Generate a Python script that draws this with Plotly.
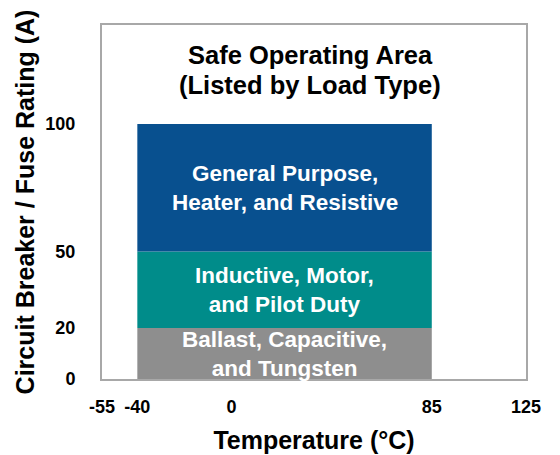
import plotly.graph_objects as go

# Data
temp_min = -40
temp_max = 85
band_lower = [0, 20, 50]
band_upper = [20, 50, 100]
band_labels = ["Ballast, Capacitive,<br>and Tungsten",
               "Inductive, Motor,<br>and Pilot Duty",
               "General Purpose,<br>Heater, and Resistive"]
band_colors = ["#8e8e8e", "#008c8a", "#08508f"]
title_lines = ["Safe Operating Area", "(Listed by Load Type)"]
x_tickvals = [-55, -40, 0, 85, 125]
x_ticktext = ["-55", "-40", "0", "85", "125"]
y_tickvals = [0, 20, 50, 100]
y_ticktext = ["0", "20", "50", "100"]
x_range = [-55, 125]
y_range = [0, 138.8]

FONT = "Liberation Sans, Arial, sans-serif"

fig = go.Figure()
fig.add_trace(go.Scatter(x=[None], y=[None], showlegend=False, hoverinfo="skip"))

for lo, hi, lab, col in zip(band_lower, band_upper, band_labels, band_colors):
    fig.add_shape(type="rect", xref="x", yref="y", x0=temp_min, x1=temp_max,
                  y0=lo, y1=hi, fillcolor=col, line=dict(width=0), layer="below")
    fig.add_annotation(x=(temp_min + temp_max) / 2, y=(lo + hi) / 2, xref="x", yref="y",
                       xanchor="center", yanchor="middle",
                       text="<b>" + lab + "</b>", showarrow=False,
                       font=dict(family=FONT, size=22.5, color="white"))

for line, ypos in zip(title_lines, [0.915, 0.8305]):
    fig.add_annotation(xref="paper", yref="paper", x=0.491, y=ypos,
                       xanchor="center", yanchor="middle",
                       text="<b>" + line + "</b>",
                       showarrow=False, font=dict(family=FONT, size=25.5, color="black"))

fig.update_layout(
    width=552, height=447,
    margin=dict(l=94, r=34, t=17, b=76),
    paper_bgcolor="white", plot_bgcolor="white",
    showlegend=False,
    font=dict(family=FONT, color="black"),
    xaxis=dict(range=x_range, tickvals=x_tickvals, ticktext=x_ticktext,
               automargin=False,
               showgrid=False, zeroline=False, showline=True, mirror=True,
               linecolor="#a8a8a8", linewidth=2,
               ticks="outside", ticklen=10, tickcolor="rgba(0,0,0,0)",
               tickfont=dict(family=FONT, size=18, color="black", weight="bold"),
               title=dict(text="<b>Temperature (°C)</b>", standoff=16,
                          font=dict(family=FONT, size=25, color="black"))),
    yaxis=dict(range=y_range, tickvals=y_tickvals, ticktext=y_ticktext,
               automargin=False,
               showgrid=False, zeroline=False, showline=True, mirror=True,
               linecolor="#a8a8a8", linewidth=2,
               ticks="outside", ticklen=21, tickcolor="rgba(0,0,0,0)",
               tickfont=dict(family=FONT, size=18, color="black", weight="bold"),
               title=dict(text="<b>Circuit Breaker / Fuse Rating (A)</b>", standoff=4,
                          font=dict(family=FONT, size=25, color="black"))),
)

fig.write_html("out.html")
